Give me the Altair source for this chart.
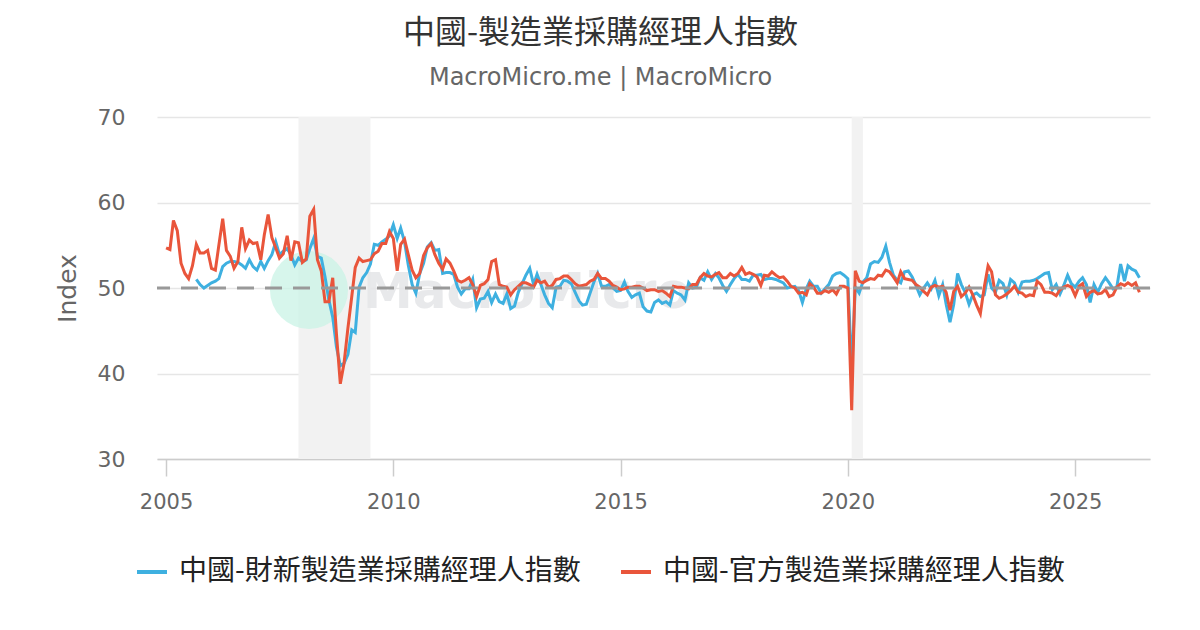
import altair as alt
import pandas as pd

BLUE_NAME = "中國-財新製造業採購經理人指數"
RED_NAME = "中國-官方製造業採購經理人指數"

# 官方 PMI, monthly from 2005-01
official = [
    54.7, 54.5, 57.9, 56.7, 52.9, 51.7, 51.1, 52.6, 55.1, 54.1, 54.1, 54.4,
    52.3, 52.1, 55.0, 58.1, 54.4, 53.7, 52.3, 53.1, 57.1, 54.6, 55.6, 55.2,
    55.3, 53.3, 56.2, 58.6, 55.9, 54.7, 53.5, 54.0, 56.1, 53.2, 55.4, 55.3,
    53.0, 53.4, 58.4, 59.2, 53.3, 52.0, 48.4, 48.4, 51.2, 44.6, 38.8, 41.2,
    45.3, 49.0, 52.4, 53.5, 53.1, 53.2, 53.3, 54.0, 54.3, 55.2, 55.2, 56.6,
    55.8, 52.0, 55.1, 55.7, 53.9, 52.1, 51.2, 51.7, 53.8, 54.7, 55.2, 53.9,
    52.9, 52.2, 53.4, 52.9, 52.0, 50.9, 50.7, 50.9, 51.2, 50.4, 49.0, 50.3,
    50.5, 51.0, 53.1, 53.3, 50.4, 50.2, 50.1, 49.2, 49.8, 50.2, 50.6, 50.6,
    50.4, 50.1, 50.9, 50.6, 50.8, 50.1, 50.3, 51.0, 51.1, 51.4, 51.4, 51.0,
    50.5, 50.2, 50.3, 50.4, 50.8, 51.0, 51.7, 51.1, 51.1, 50.8, 50.3, 50.1,
    49.8, 49.9, 50.1, 50.1, 50.2, 50.2, 50.0, 49.7, 49.8, 49.8, 49.6, 49.7,
    49.4, 49.0, 50.2, 50.1, 50.1, 50.0, 49.9, 50.4, 50.4, 51.2, 51.7, 51.4,
    51.3, 51.6, 51.8, 51.2, 51.2, 51.7, 51.4, 51.7, 52.4, 51.6, 51.8, 51.6,
    51.3, 50.3, 51.5, 51.4, 51.9, 51.5, 51.2, 51.3, 50.8, 50.2, 50.0, 49.4,
    49.5, 49.2, 50.5, 50.1, 49.4, 49.4, 49.7, 49.5, 49.8, 49.3, 50.2, 50.2,
    50.0, 35.7, 52.0, 50.8, 50.6, 50.9, 51.1, 51.0, 51.5, 51.4, 52.1, 51.9,
    51.3, 50.6, 51.9, 51.1, 51.0, 50.9, 50.4, 50.1, 49.6, 49.2, 50.1, 50.3,
    50.1, 50.2, 49.5, 47.4, 49.6, 50.2, 49.0, 49.4, 50.1, 49.2, 48.0, 47.0,
    50.1, 52.6, 51.9, 49.2, 48.8, 49.0, 49.3, 49.7, 50.2, 49.5, 49.4, 49.0,
    49.2, 49.1, 50.8, 50.4, 49.5, 49.5, 49.4, 49.1, 49.8, 50.1, 50.3, 50.1,
    49.1, 50.2, 50.5, 49.0, 49.5, 49.7, 49.3, 49.4, 49.8, 49.0, 49.2, 50.1,
    50.5, 50.3, 50.6, 50.3, 50.6, 49.5,
]

# 財新 PMI, monthly from 2005-09
caixin = [
    51.0, 50.4, 50.0, 50.3,
    50.6, 50.8, 51.1, 52.5, 52.9, 53.1, 53.1, 53.0, 52.7, 52.3, 53.3, 52.5,
    52.1, 53.1, 52.3, 53.2, 53.9, 55.4, 53.9, 54.3, 54.6, 53.9, 52.7, 53.5,
    53.1, 53.3, 54.6, 55.8, 53.7, 53.5, 51.3, 48.6, 46.6, 43.1, 40.9, 41.2,
    42.2, 45.1, 44.8, 50.1, 51.2, 51.8, 52.8, 55.1, 55.0, 55.4, 55.7, 56.1,
    57.4, 55.8, 57.0, 55.4, 52.7, 50.4, 49.4, 51.7, 52.9, 54.8, 55.3, 54.4,
    54.5, 51.7, 51.8, 51.8, 51.6, 50.1, 49.3, 49.9, 49.9, 51.0, 47.7, 48.7,
    48.8, 49.6, 48.3, 49.3, 48.4, 48.2, 49.3, 47.6, 47.9, 49.5, 50.5, 51.5,
    52.3, 50.4, 51.6, 50.4, 49.2, 48.2, 47.7, 50.1, 50.2, 50.9, 50.8, 50.5,
    49.5, 48.5, 48.0, 48.1, 49.4, 50.7, 51.7, 50.2, 50.2, 50.4, 50.0, 49.6,
    49.7, 50.7, 49.6, 48.9, 49.2, 49.4, 47.8, 47.3, 47.2, 48.3, 48.6, 48.2,
    48.4, 48.0, 49.7, 49.4, 49.2, 48.6, 50.6, 50.0, 50.1, 51.2, 50.9, 51.9,
    51.0, 51.7, 51.2, 50.3, 49.6, 50.4, 51.1, 51.6, 51.0, 51.0, 50.8, 51.5,
    51.5, 51.6, 51.0, 51.1, 51.1, 51.0, 50.8, 50.6, 50.0, 50.1, 50.2, 49.7,
    48.3, 49.9, 50.8, 50.2, 50.2, 49.4, 49.9, 50.4, 51.4, 51.7, 51.8, 51.5,
    51.1, 40.3, 50.1, 49.4, 50.7, 51.2, 52.8, 53.1, 53.0, 53.6, 54.9, 53.0,
    51.5, 50.9, 50.6, 51.9, 52.0, 51.3, 50.3, 49.2, 50.0, 50.6, 49.9, 50.9,
    49.1, 50.4, 48.1, 46.0, 48.1, 51.7, 50.4, 49.5, 48.1, 49.2, 49.4, 49.0,
    49.2, 51.6, 50.0, 49.5, 50.9, 50.5, 49.2, 51.0, 50.6, 49.5, 50.7, 50.8,
    50.8, 50.9, 51.1, 51.4, 51.7, 51.8, 49.8, 50.4, 49.3, 50.3, 51.5, 50.5,
    50.1, 50.8, 51.2, 50.4, 48.3, 50.4, 49.5, 50.5, 51.2, 50.6, 49.9, 50.1,
    52.8, 50.8, 52.6, 52.2, 52.0, 51.2,
]

band_start = ["2007-12-01", "2020-02-01"]
band_end = ["2009-07-01", "2020-05-01"]
year_ticks = [2005, 2010, 2015, 2020, 2025]
y_ticks = [30, 40, 50, 60, 70]

off_df = pd.DataFrame({
    "date": pd.date_range("2005-01-01", periods=len(official), freq="MS").strftime("%Y-%m-%d"),
    "value": official,
    "series": RED_NAME,
})
cx_df = pd.DataFrame({
    "date": pd.date_range("2005-09-01", periods=len(caixin), freq="MS").strftime("%Y-%m-%d"),
    "value": caixin,
    "series": BLUE_NAME,
})
band_df = pd.DataFrame({"start": band_start, "end": band_end})
ref_df = pd.DataFrame({"y": [50]})
wm_df = pd.DataFrame({"t": ["MacroMicro"]})

x_scale = alt.Scale(domain=[alt.DateTime(year=2004, month=10, date=20),
                            alt.DateTime(year=2026, month=8, date=25)])
y_scale = alt.Scale(domain=[30, 70], nice=False, zero=False)

x_axis = alt.Axis(
    values=[alt.DateTime(year=y) for y in year_ticks], format="%Y", title=None,
    labelFontSize=21, labelColor="#666666", labelFont="DejaVu Sans", labelPadding=15,
    tickSize=17, tickColor="#cccccc", tickWidth=1.5, domainColor="#cccccc",
    domainWidth=1.5, grid=False,
)
y_axis = alt.Axis(
    values=y_ticks, title="Index", titleFontSize=25, titleColor="#666666",
    titleFont="DejaVu Sans", titleFontWeight="normal", titlePadding=17,
    labelFontSize=22, labelColor="#666666", labelFont="DejaVu Sans", labelPadding=32,
    domain=False, ticks=False, gridColor="#e6e6e6", gridWidth=1.5,
)

color = alt.Color(
    "series:N",
    scale=alt.Scale(domain=[BLUE_NAME, RED_NAME], range=["#3eb0e0", "#e9553b"]),
    legend=alt.Legend(
        title=None, orient="none", legendX=-22, legendY=438, direction="horizontal",
        symbolType="stroke", symbolSize=900, symbolStrokeWidth=4,
        labelFontSize=28, labelFont="Noto Sans CJK TC", labelColor="#222222",
        labelOffset=10, columnPadding=32, labelLimit=700,
    ),
)

bands = alt.Chart(band_df).mark_rect(color="#f2f2f2").encode(
    x=alt.X("start:T", scale=x_scale, axis=x_axis), x2="end:T"
)
wm_circle = alt.Chart(wm_df).mark_point(
    filled=True, shape="circle", color="#c9f3e6", opacity=0.75, size=6100
).encode(x=alt.value(152), y=alt.value(173))
wm_text = alt.Chart(wm_df).mark_text(
    font="DejaVu Sans", fontWeight="bold", fontSize=50, color="#e6e7e9",
    align="left", baseline="alphabetic", opacity=0.9
).encode(text="t:N", x=alt.value(206), y=alt.value(191))

blue_line = alt.Chart(cx_df).mark_line(strokeWidth=3).encode(
    x=alt.X("date:T", scale=x_scale, axis=x_axis),
    y=alt.Y("value:Q", scale=y_scale, axis=y_axis),
    color=color,
)
red_line = alt.Chart(off_df).mark_line(strokeWidth=3).encode(
    x=alt.X("date:T", scale=x_scale, axis=x_axis),
    y=alt.Y("value:Q", scale=y_scale, axis=y_axis),
    color=color,
)
rule = alt.Chart(ref_df).mark_rule(color="#999999", strokeWidth=3, strokeDash=[17, 11]).encode(
    y=alt.Y("y:Q", scale=y_scale)
)

chart = alt.layer(bands, wm_circle, wm_text, blue_line, red_line, rule).properties(
    width=993, height=342,
    background="white",
    autosize=alt.AutoSizeParams(type="none"),
    padding={"left": 149, "top": 109, "right": 42, "bottom": 163},
    title=alt.TitleParams(
        text="中國-製造業採購經理人指數", subtitle="MacroMicro.me | MacroMicro",
        font="Noto Sans CJK TC", fontSize=32, fontWeight="normal", color="#333333",
        subtitleFont="DejaVu Sans", subtitleFontSize=24, subtitleColor="#666666",
        anchor="middle", frame="group", dx=-53, offset=15, subtitlePadding=16,
    ),
).configure_view(stroke=None, strokeWidth=0)

chart.save("out.html", embed_options={"renderer": "svg", "actions": False})
